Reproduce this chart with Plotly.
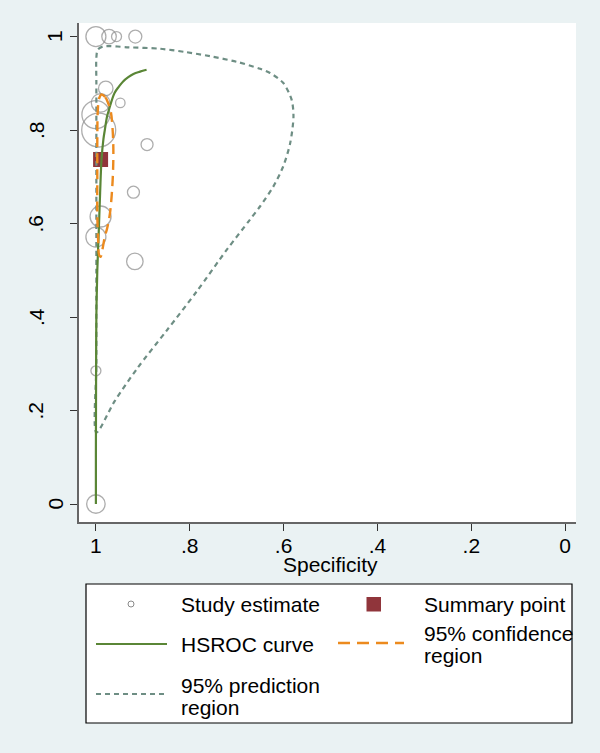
import plotly.graph_objects as go

# ---------------- data ----------------
study_spec = [1.000, 0.972, 0.956, 0.916, 0.979, 0.990, 0.948, 1.000, 0.994, 0.891, 0.920, 0.990, 1.000, 0.917, 1.000, 1.000]
study_sens = [1.000, 1.000, 1.000, 1.000, 0.889, 0.858, 0.858, 0.833, 0.800, 0.769, 0.667, 0.615, 0.571, 0.519, 0.285, 0.000]
study_weight = [20, 14.5, 10, 13, 14.5, 18.5, 9.5, 28, 34, 12, 12, 21, 20, 16.5, 10, 18.5]

summary_spec = [0.990]
summary_sens = [0.737]

hsroc_spec = [1.000, 1.000, 0.9998, 0.9995, 0.999, 0.997, 0.994, 0.991, 0.988, 0.984, 0.981,
              0.976, 0.972, 0.966, 0.960, 0.951, 0.942, 0.931, 0.920, 0.906, 0.892]
hsroc_sens = [0.000, 0.100, 0.200, 0.300, 0.400, 0.500, 0.580, 0.666, 0.737, 0.780, 0.800,
              0.830, 0.844, 0.864, 0.880, 0.893, 0.904, 0.913, 0.920, 0.925, 0.929]

conf_spec = [0.988, 0.980, 0.974, 0.968, 0.965, 0.963, 0.963, 0.965, 0.970, 0.976, 0.981,
             0.986, 0.990, 0.993, 0.995, 0.997, 0.997, 0.997, 0.996, 0.993, 0.988]
conf_sens = [0.876, 0.870, 0.858, 0.838, 0.810, 0.770, 0.730, 0.680, 0.622, 0.590, 0.572,
             0.545, 0.529, 0.532, 0.560, 0.620, 0.700, 0.780, 0.840, 0.868, 0.876]

pred_spec = [0.999, 0.999, 0.999, 0.999, 0.999, 0.999, 0.996, 0.984, 0.930, 0.864, 0.810, 0.757,
             0.700, 0.650, 0.629, 0.601, 0.583, 0.579, 0.586, 0.601, 0.622, 0.650, 0.672,
             0.721, 0.785, 0.850, 0.912, 0.960, 0.999]
pred_sens = [0.153, 0.300, 0.500, 0.700, 0.900, 0.955, 0.972, 0.979, 0.977, 0.974, 0.967, 0.958,
             0.946, 0.931, 0.922, 0.901, 0.865, 0.829, 0.772, 0.722, 0.679, 0.637, 0.608,
             0.544, 0.455, 0.370, 0.290, 0.220, 0.153]

tick_vals = [0, 0.2, 0.4, 0.6, 0.8, 1]
tick_text = ["0", ".2", ".4", ".6", ".8", "1"]

legend_labels = ["Study estimate", "Summary point", "HSROC curve",
                 "95% confidence", "region", "95% prediction", "region"]

# ---------------- style ----------------
W, H = 600, 753
L, R, T, B = 79, 576, 23, 522
FONT = "Liberation Sans, Arial, sans-serif"
FS = 21
C_STUDY = "#8a8a8a"
C_SUM = "#90353B"
C_HS = "#5A8636"
C_CONF = "#EC8A1E"
C_PRED = "#6E8E84"
BG = "#EAF2F3"


def px(x):
    return (x - L) / (R - L)


def py(y):
    return (B - y) / (B - T)


fig = go.Figure()
fig.add_trace(go.Scatter(x=study_spec, y=study_sens, mode="markers",
                         marker=dict(symbol="circle-open", size=study_weight,
                                     color=C_STUDY, line=dict(width=1.3, color=C_STUDY)),
                         showlegend=False))
fig.add_trace(go.Scatter(x=summary_spec, y=summary_sens, mode="markers",
                         marker=dict(symbol="square", size=15, color=C_SUM),
                         showlegend=False))
fig.add_trace(go.Scatter(x=pred_spec, y=pred_sens, mode="lines", line_shape="spline",
                         line=dict(color=C_PRED, width=2.2, dash="5px,4px", smoothing=0.8),
                         showlegend=False))
fig.add_trace(go.Scatter(x=hsroc_spec, y=hsroc_sens, mode="lines", line_shape="spline",
                         line=dict(color=C_HS, width=2.2), showlegend=False))
fig.add_trace(go.Scatter(x=conf_spec, y=conf_sens, mode="lines", line_shape="spline",
                         line=dict(color=C_CONF, width=2.4, dash="10px,6px"),
                         showlegend=False))

axis_common = dict(showgrid=False, zeroline=False, showline=True, linecolor="#666666",
                   linewidth=1.5, ticks="outside", ticklen=7, tickwidth=1.2,
                   tickcolor="#333333", tickvals=tick_vals, mirror=False)

fig.update_xaxes(range=[1.036, -0.023], ticktext=tick_text,
                 tickfont=dict(family=FONT, size=FS, color="black"),
                 ticklabelstandoff=-3, **axis_common)
fig.update_yaxes(range=[-0.0385, 1.029], showticklabels=False, **axis_common)

annotations = []
# y tick labels (rotated)
for v, t in zip(tick_vals, tick_text):
    xc = 54.5 if t in ("0", "1") else 36
    annotations.append(dict(x=px(xc), y=v, xref="paper", yref="y", text=t,
                            textangle=-90, showarrow=False, xanchor="center",
                            yanchor="middle", font=dict(family=FONT, size=FS, color="black")))
# x axis title
annotations.append(dict(x=px(330), y=py(564), xref="paper", yref="paper", text="Specificity",
                        showarrow=False, xanchor="center", yanchor="middle",
                        font=dict(family=FONT, size=FS, color="black")))

# legend texts
leg_pos = [(179, 604), (422, 604), (179, 644), (422, 633), (422, 655), (179, 685), (179, 707)]
for (lx, ly), txt in zip(leg_pos, legend_labels):
    annotations.append(dict(x=px(lx), y=py(ly), xref="paper", yref="paper", text=txt,
                            showarrow=False, xanchor="left", yanchor="middle",
                            font=dict(family=FONT, size=FS, color="black")))

shapes = [
    # legend box
    dict(type="rect", xref="paper", yref="paper", x0=px(86), x1=px(572), y0=py(584), y1=py(723),
         line=dict(color="black", width=1.2), fillcolor="white", layer="below"),
    # study estimate symbol
    dict(type="circle", xref="paper", yref="paper", x0=px(128), x1=px(134), y0=py(601), y1=py(607),
         line=dict(color=C_STUDY, width=1)),
    # summary square
    dict(type="rect", xref="paper", yref="paper", x0=px(366.5), x1=px(381), y0=py(597), y1=py(611.5),
         line=dict(width=0), fillcolor=C_SUM),
    # hsroc line
    dict(type="line", xref="paper", yref="paper", x0=px(96), x1=px(167), y0=py(644), y1=py(644),
         line=dict(color=C_HS, width=2.2)),
    # conf line
    dict(type="line", xref="paper", yref="paper", x0=px(338), x1=px(404), y0=py(643), y1=py(643),
         line=dict(color=C_CONF, width=2.4, dash="12px,7px")),
    # pred line
    dict(type="line", xref="paper", yref="paper", x0=px(96), x1=px(167), y0=py(694), y1=py(694),
         line=dict(color=C_PRED, width=2, dash="5px,4px")),
]

fig.update_layout(width=W, height=H, margin=dict(l=L, r=W - R, t=T, b=H - B, pad=0),
                  paper_bgcolor=BG, plot_bgcolor="white", showlegend=False,
                  annotations=annotations, shapes=shapes,
                  font=dict(family=FONT, size=FS, color="black"))

fig.write_html("out.html", config={"displayModeBar": False},
               post_script="document.body.style.margin='0';"
                           "document.body.style.padding='0';"
                           "document.body.style.background='#EAF2F3';")
